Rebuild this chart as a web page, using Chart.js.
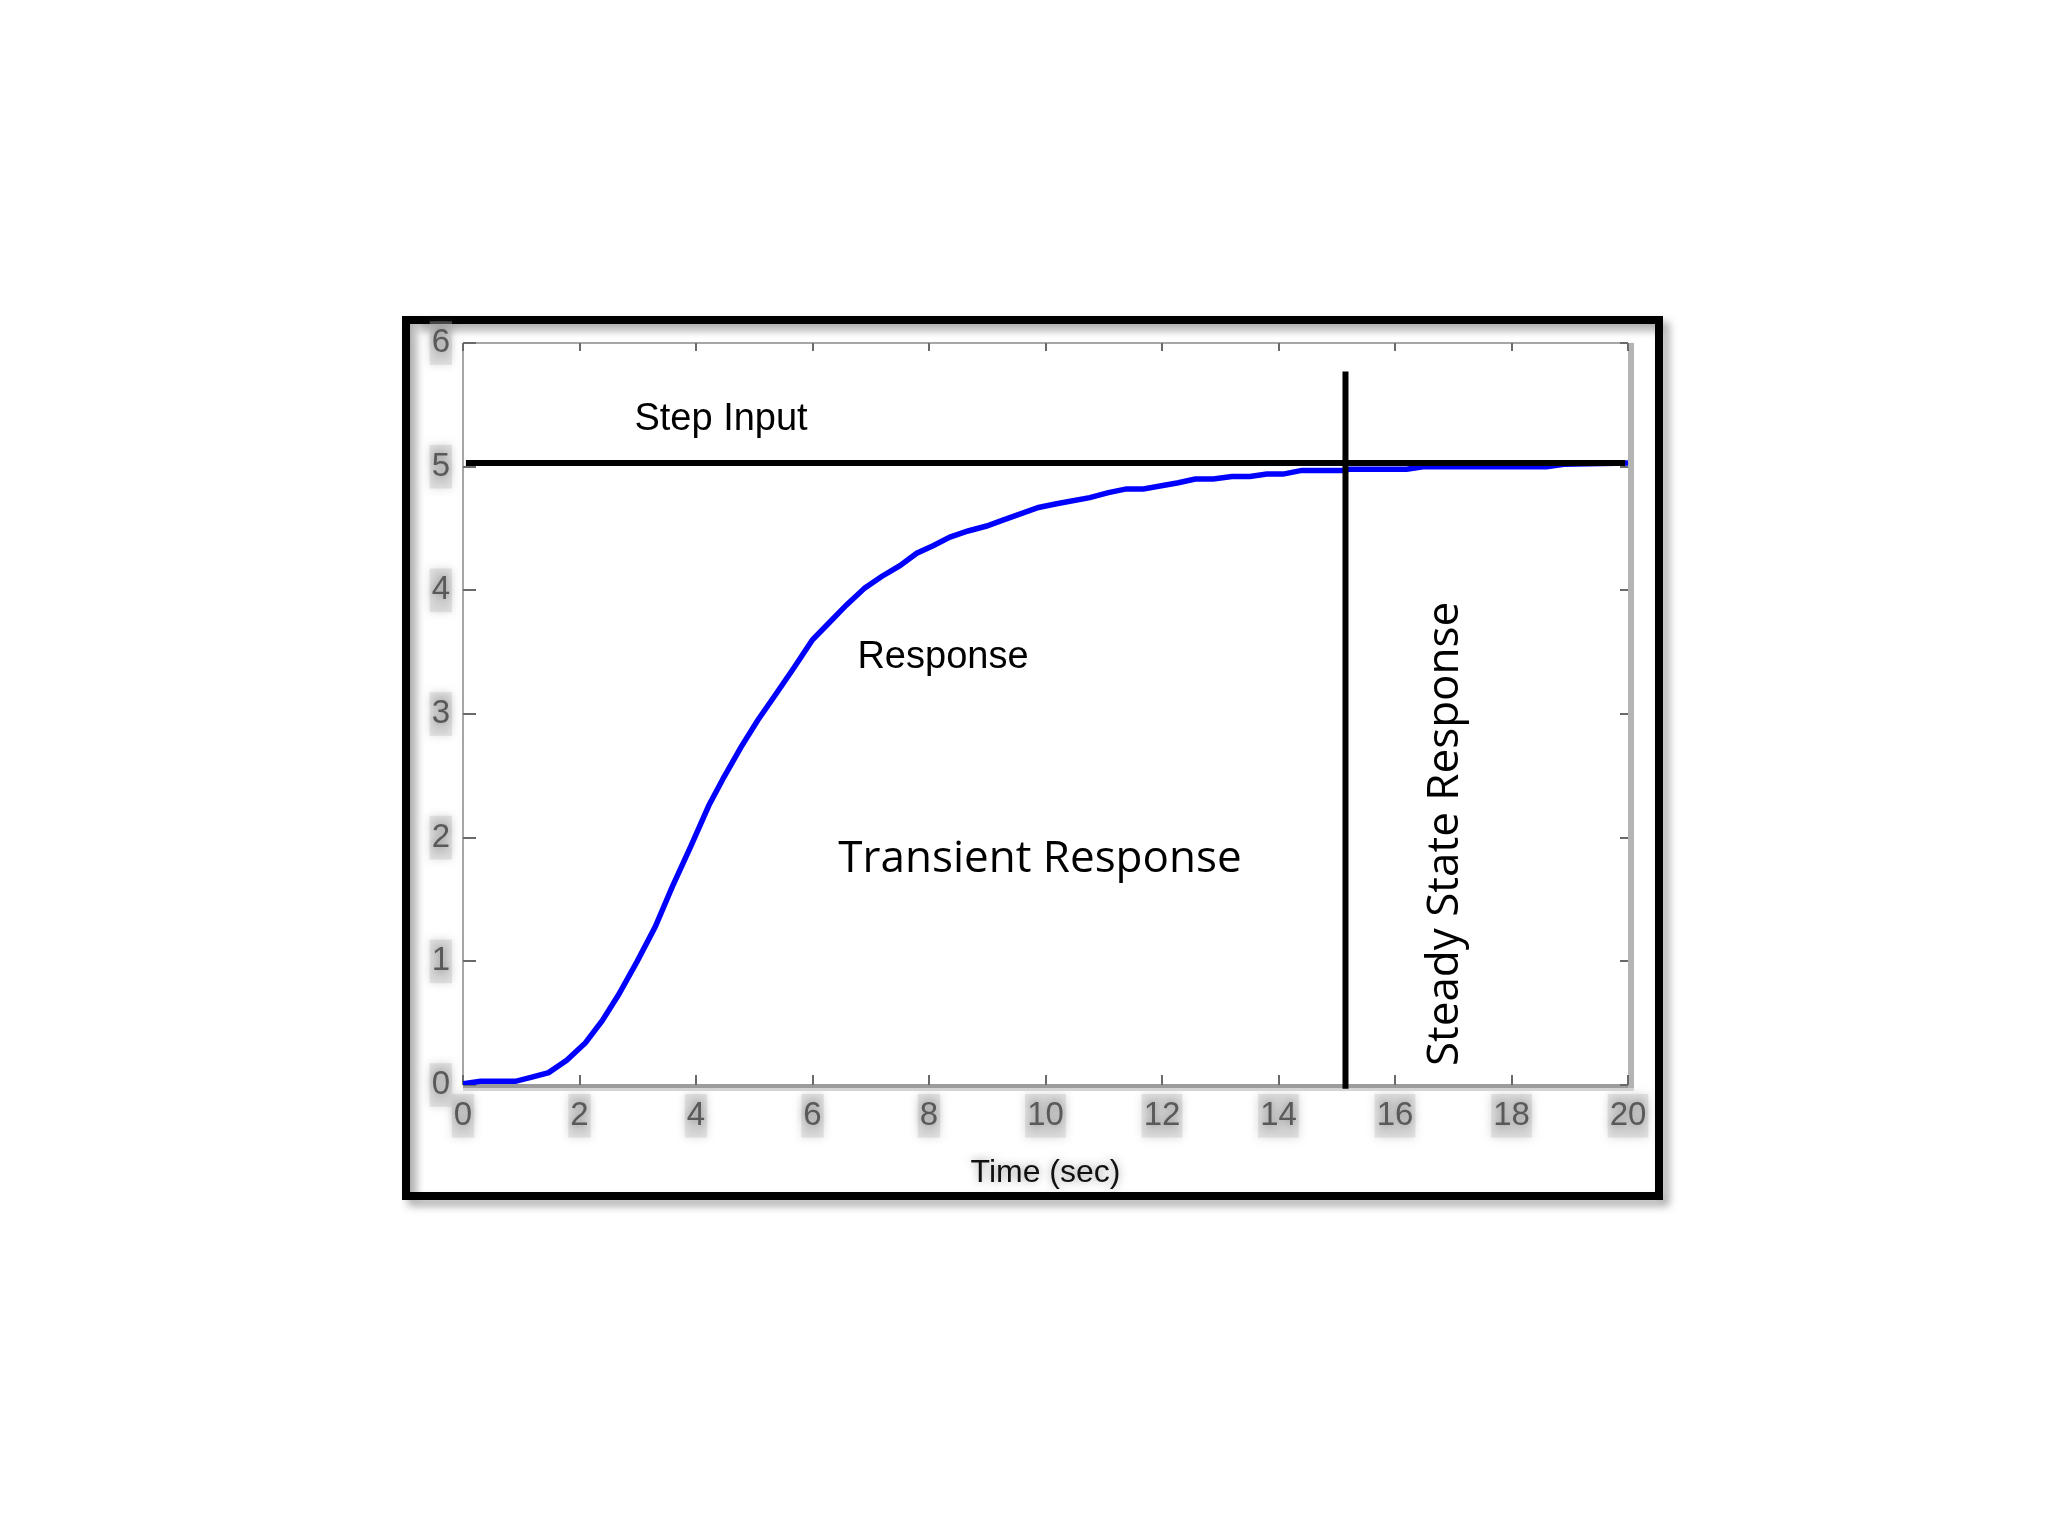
<!DOCTYPE html>
<html>
<head>
<meta charset="utf-8">
<title>Step response</title>
<script src="https://cdn.jsdelivr.net/npm/chart.js@4.4.1/dist/chart.umd.min.js"></script>
<style>
  html, body { margin: 0; padding: 0; background: #fff; }
  #stepChart { display: block; }
</style>
</head>
<body>
<canvas id="stepChart" width="2048" height="1536"></canvas>
<script>
// response curve (time in sec, output)
const responseTime = [0, 0.3, 0.9, 1.15, 1.47, 1.78, 2.1, 2.39, 2.67, 2.99, 3.3, 3.59, 3.91, 4.22, 4.48,
    4.77, 5.06, 5.37, 5.69, 6.0, 6.29, 6.58, 6.9, 7.18, 7.5, 7.79, 8.07, 8.36, 8.67, 8.99, 9.28, 9.88,
    10.19, 10.76, 11.08, 11.39, 11.68, 12.28, 12.57, 12.88, 13.2, 13.51, 13.8, 14.08, 14.4, 15.12, 15.23,
    16.2, 16.48, 18.6, 18.9, 20.0];
const responseValue = [0.01, 0.03, 0.03, 0.06, 0.10, 0.20, 0.34, 0.52, 0.73, 1.0, 1.28, 1.6, 1.93, 2.26, 2.49,
    2.73, 2.95, 3.16, 3.38, 3.60, 3.74, 3.88, 4.02, 4.11, 4.20, 4.30, 4.36, 4.43, 4.48, 4.52, 4.57, 4.67,
    4.70, 4.75, 4.79, 4.82, 4.82, 4.87, 4.90, 4.90, 4.92, 4.92, 4.94, 4.94, 4.97, 4.97, 4.98,
    4.98, 5.0, 5.0, 5.02, 5.03];

// step input level
const stepTime = [0.05, 19.95];
const stepValue = [5.03, 5.03];

// divider between transient and steady state
const boundaryTime = [15.15, 15.15];
const boundaryValue = [-0.03, 5.77];

// axis ticks
const xTicks = [0, 2, 4, 6, 8, 10, 12, 14, 16, 18, 20];
const yTicks = [0, 1, 2, 3, 4, 5, 6];

function toPoints(xs, ys) {
    return xs.map(function(x, i) { return { x: x, y: ys[i] }; });
}

// black frame round the figure, plus the plot box and inward tick marks
const framePlugin = {
    id: 'frame',
    beforeDraw: function(chart) {
        const ctx = chart.ctx;
        ctx.save();
        ctx.fillStyle = '#ffffff';
        ctx.fillRect(0, 0, chart.width, chart.height);

        // drop shadow + black border
        ctx.shadowColor = 'rgba(0,0,0,0.35)';
        ctx.shadowBlur = 8;
        ctx.shadowOffsetX = 6;
        ctx.shadowOffsetY = 6;
        ctx.strokeStyle = '#000';
        ctx.lineWidth = 8;
        ctx.strokeRect(406, 320, 1253, 876);
        ctx.restore();

        // light inner bevel on top and left
        ctx.save();
        let g = ctx.createLinearGradient(0, 324, 0, 338);
        g.addColorStop(0, 'rgba(170,170,170,0.8)');
        g.addColorStop(1, 'rgba(255,255,255,0)');
        ctx.fillStyle = g;
        ctx.fillRect(410, 324, 1245, 14);
        g = ctx.createLinearGradient(410, 0, 424, 0);
        g.addColorStop(0, 'rgba(170,170,170,0.8)');
        g.addColorStop(1, 'rgba(255,255,255,0)');
        ctx.fillStyle = g;
        ctx.fillRect(410, 324, 14, 868);
        ctx.restore();

        // soft blurry halo for axis text
        ctx.save();
        ctx.shadowColor = 'rgba(90,90,90,0.6)';
        ctx.shadowBlur = 9;
    },
    beforeDatasetsDraw: function(chart) {
        const ctx = chart.ctx;
        ctx.restore();

        const a = chart.chartArea;
        const xs = chart.scales.x;
        const ys = chart.scales.y;
        ctx.save();
        // plot box
        ctx.strokeStyle = '#a6a6a6';
        ctx.lineWidth = 2;
        ctx.beginPath();
        ctx.moveTo(a.left, a.top);
        ctx.lineTo(a.right, a.top);
        ctx.moveTo(a.left, a.top);
        ctx.lineTo(a.left, a.bottom);
        ctx.stroke();
        ctx.strokeStyle = '#d4d4d4';
        ctx.lineWidth = 4;
        ctx.beginPath();
        ctx.moveTo(a.left, a.bottom + 4);
        ctx.lineTo(a.right + 6, a.bottom + 4);
        ctx.stroke();
        ctx.strokeStyle = '#9c9c9c';
        ctx.lineWidth = 4;
        ctx.beginPath();
        ctx.moveTo(a.left, a.bottom + 1);
        ctx.lineTo(a.right + 4, a.bottom + 1);
        ctx.stroke();
        ctx.strokeStyle = '#b4b4b4';
        ctx.lineWidth = 6;
        ctx.beginPath();
        ctx.moveTo(a.right + 3, a.top);
        ctx.lineTo(a.right + 3, a.bottom + 3);
        ctx.stroke();

        // inward tick marks
        ctx.strokeStyle = '#6a6a6a';
        ctx.lineWidth = 2;
        ctx.beginPath();
        xs.ticks.forEach(function(t) {
            const px = Math.round(xs.getPixelForValue(t.value));
            ctx.moveTo(px, a.bottom);
            ctx.lineTo(px, a.bottom - 10);
            ctx.moveTo(px, a.top);
            ctx.lineTo(px, a.top + 8);
        });
        ys.ticks.forEach(function(t) {
            const py = Math.round(ys.getPixelForValue(t.value));
            ctx.moveTo(a.left, py);
            ctx.lineTo(a.left + 13, py);
            ctx.moveTo(a.right, py);
            ctx.lineTo(a.right - 8, py);
        });
        ctx.stroke();
        ctx.restore();
    },
    afterDatasetsDraw: function(chart) {
        const ctx = chart.ctx;
        const xs = chart.scales.x;
        const ys = chart.scales.y;
        ctx.save();
        ctx.fillStyle = '#000';
        ctx.textAlign = 'center';
        ctx.textBaseline = 'alphabetic';

        ctx.font = '38px "Liberation Sans", Arial, sans-serif';
        ctx.fillText('Step Input', xs.getPixelForValue(4.43), ys.getPixelForValue(5.30));
        ctx.fillText('Response', xs.getPixelForValue(8.24), ys.getPixelForValue(3.37));

        ctx.font = '44px "Open Sans", sans-serif';
        ctx.fillText('Transient Response', xs.getPixelForValue(9.905), ys.getPixelForValue(1.725));

        ctx.translate(xs.getPixelForValue(17.08), ys.getPixelForValue(2.03));
        ctx.rotate(-Math.PI / 2);
        ctx.fillText('Steady State Response', 0, 0);
        ctx.restore();
    }
};

const tickFont = { family: '"Liberation Sans", Arial, sans-serif', size: 33 };

new Chart(document.getElementById('stepChart'), {
    type: 'line',
    data: {
        datasets: [
            {
                label: 'Response',
                data: toPoints(responseTime, responseValue),
                borderColor: '#0000ff',
                borderWidth: 5.5,
                pointRadius: 0,
                tension: 0,
                order: 2
            },
            {
                label: 'Step Input',
                data: toPoints(stepTime, stepValue),
                borderColor: '#000000',
                borderWidth: 6,
                pointRadius: 0,
                order: 1
            },
            {
                label: 'Boundary',
                data: toPoints(boundaryTime, boundaryValue),
                borderColor: '#000000',
                borderWidth: 6,
                pointRadius: 0,
                clip: false,
                order: 0
            }
        ]
    },
    options: {
        responsive: false,
        animation: false,
        devicePixelRatio: 1,
        layout: {
            padding: { left: 402, right: 420, top: 343, bottom: 336 }
        },
        plugins: {
            legend: { display: false },
            tooltip: { enabled: false }
        },
        scales: {
            x: {
                type: 'linear',
                min: 0,
                max: 20,
                afterBuildTicks: function(scale) {
                    scale.ticks = xTicks.map(function(v) { return { value: v }; });
                },
                afterFit: function(scale) { scale.height = 115; },
                grid: { display: false, drawTicks: false },
                border: { display: false },
                ticks: {
                    font: tickFont,
                    color: '#595959',
                    padding: 11,
                    maxRotation: 0,
                    showLabelBackdrop: true,
                    backdropColor: 'rgba(185,185,185,0.35)',
                    backdropPadding: 2
                },
                title: {
                    display: true,
                    text: 'Time (sec)',
                    color: '#111111',
                    font: { family: '"Liberation Sans", Arial, sans-serif', size: 32 },
                    padding: { top: 0, bottom: 8 }
                }
            },
            y: {
                type: 'linear',
                min: 0,
                max: 6,
                afterBuildTicks: function(scale) {
                    scale.ticks = yTicks.map(function(v) { return { value: v }; });
                },
                afterFit: function(scale) { scale.width = 61; },
                grid: { display: false, drawTicks: false },
                border: { display: false },
                ticks: {
                    font: tickFont,
                    color: '#595959',
                    padding: 13,
                    showLabelBackdrop: true,
                    backdropColor: 'rgba(185,185,185,0.35)',
                    backdropPadding: 2
                }
            }
        }
    },
    plugins: [framePlugin]
});
</script>
</body>
</html>
